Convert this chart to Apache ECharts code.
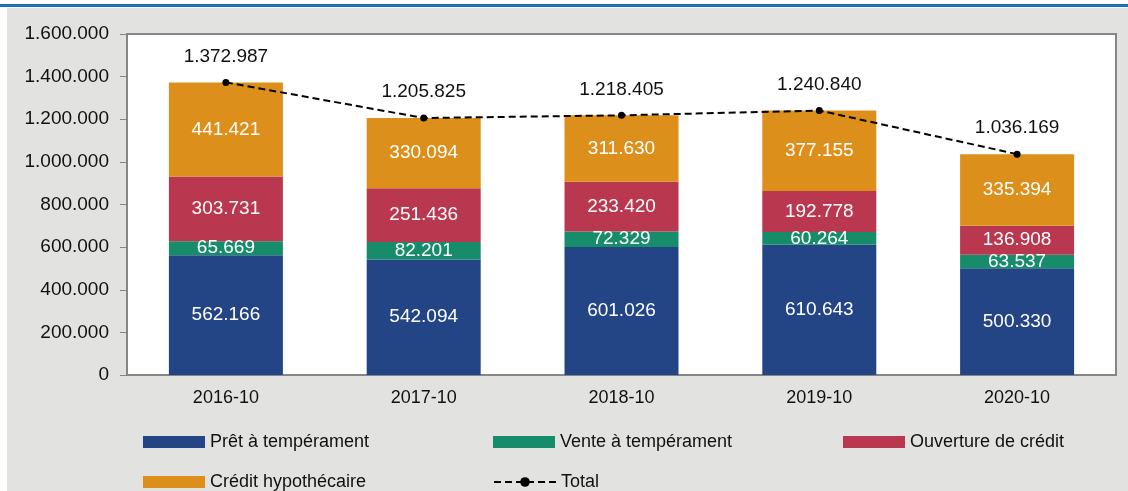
<!DOCTYPE html>
<html>
<head>
<meta charset="utf-8">
<script src="https://cdn.jsdelivr.net/npm/echarts@6/dist/echarts.min.js"></script>
<style>
  html, body { margin: 0; padding: 0; background: #fff; }
  #chart { width: 1128px; height: 491px; }
</style>
</head>
<body>
<div id="chart"></div>
<script>
// données
const categories = ['2016-10', '2017-10', '2018-10', '2019-10', '2020-10'];
const pret = [562166, 542094, 601026, 610643, 500330];
const vente = [65669, 82201, 72329, 60264, 63537];
const ouverture = [303731, 251436, 233420, 192778, 136908];
const hypo = [441421, 330094, 311630, 377155, 335394];
const total = [1372987, 1205825, 1218405, 1240840, 1036169];

const FONT = '"Liberation Sans", Arial, sans-serif';

function fmt(v) {
  return String(v).replace(/\B(?=(\d{3})+(?!\d))/g, '.');
}

function barSerie(name, data, color) {
  return {
    name: name,
    type: 'bar',
    stack: 'tot',
    barWidth: 114,
    data: data,
    itemStyle: { color: color },
    label: {
      show: true,
      position: 'inside',
      color: '#fff',
      fontFamily: FONT,
      fontSize: 19,
      formatter: (p) => fmt(p.value),
    },
  };
}

function legendAt(name, left, top, icon) {
  return {
    data: [{ name: name, icon: icon }],
    left: left,
    top: top,
    padding: 0,
    itemWidth: 62,
    itemHeight: 12,
    itemGap: 6,
    textStyle: { fontFamily: FONT, fontSize: 18, color: '#111' },
    selectedMode: false,
  };
}

const chart = echarts.init(document.getElementById('chart'));
const option = {
  animation: false,
  graphic: [
    { type: 'rect', z: -10, shape: { x: 7, y: 8, width: 1121, height: 483 }, style: { fill: '#e2e2e1' } },
    { type: 'rect', z: -10, shape: { x: 0, y: 4, width: 1128, height: 3 }, style: { fill: '#1f6fb5' } },
  ],
  grid: {
    left: 127,
    right: 12,
    top: 34,
    bottom: 116,
    show: true,
    backgroundColor: '#fff',
    borderColor: '#868686',
    borderWidth: 2,
  },
  legend: [
    legendAt('Prêt à tempérament', 143, 433, 'rect'),
    legendAt('Vente à tempérament', 493, 433, 'rect'),
    legendAt('Ouverture de crédit', 843, 433, 'rect'),
    legendAt('Crédit hypothécaire', 143, 473, 'rect'),
    legendAt('Total', 493, 473),
  ],
  xAxis: {
    type: 'category',
    data: categories,
    axisLine: { lineStyle: { color: '#868686', width: 2 } },
    axisTick: { inside: true, length: 6, lineStyle: { color: '#868686' } },
    axisLabel: { color: '#111', fontFamily: FONT, fontSize: 18, margin: 14 },
  },
  yAxis: {
    type: 'value',
    min: 0,
    max: 1600000,
    interval: 200000,
    splitLine: { show: false },
    axisLine: { show: true, lineStyle: { color: '#868686', width: 2 } },
    axisTick: { show: true, length: 7, lineStyle: { color: '#868686' } },
    axisLabel: { color: '#111', fontFamily: FONT, fontSize: 19, margin: 18, formatter: (v) => fmt(v) },
  },
  series: [
    barSerie('Prêt à tempérament', pret, '#234586'),
    barSerie('Vente à tempérament', vente, '#178c6a'),
    barSerie('Ouverture de crédit', ouverture, '#b9374f'),
    barSerie('Crédit hypothécaire', hypo, '#dc901b'),
    {
      name: 'Total',
      type: 'line',
      data: total,
      z: 10,
      symbol: 'circle',
      symbolSize: 7,
      itemStyle: { color: '#000' },
      lineStyle: { color: '#000', width: 2, type: [7, 4] },
      label: {
        show: true,
        position: 'top',
        distance: 13,
        color: '#111',
        fontFamily: FONT,
        fontSize: 19,
        formatter: (p) => fmt(p.value),
      },
    },
  ],
};
chart.setOption(option);
</script>
</body>
</html>
